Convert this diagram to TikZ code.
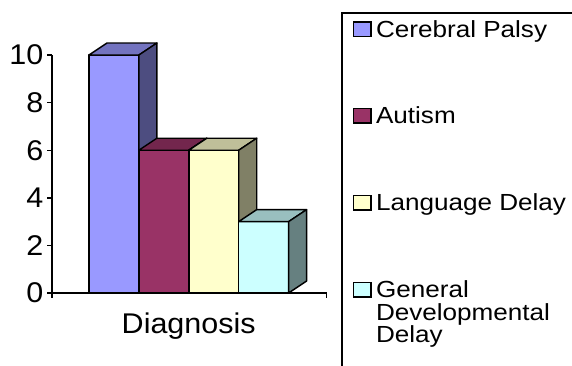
\documentclass[tikz,border=0pt]{standalone}
\usepackage{fontspec}
\newfontfamily\axfont[FakeStretch=1.07]{Liberation Sans}
\newfontfamily\legfont[FakeStretch=1.12]{Liberation Sans}
\definecolor{cpF}{HTML}{9999FF}\definecolor{cpT}{HTML}{7373BF}\definecolor{cpS}{HTML}{4D4D80}
\definecolor{auF}{HTML}{993366}\definecolor{auT}{HTML}{73264D}\definecolor{auS}{HTML}{4D1A33}
\definecolor{ldF}{HTML}{FFFFCC}\definecolor{ldT}{HTML}{BFBF99}\definecolor{ldS}{HTML}{808066}
\definecolor{gdF}{HTML}{CCFFFF}\definecolor{gdT}{HTML}{99BFBF}\definecolor{gdS}{HTML}{668080}
\newcommand\drawbar[5]{%
  \filldraw[barline,fill=#3] (#1,293) rectangle (#1+49.9,#2);
  \filldraw[barline,fill=#4] (#1,#2) -- (#1+18,#2-12) -- (#1+67.9,#2-12) -- (#1+49.9,#2) -- cycle;
  \filldraw[barline,fill=#5] (#1+49.9,293) -- (#1+49.9,#2) -- (#1+67.9,#2-12) -- (#1+67.9,281) -- cycle;
}
\begin{document}
\begin{tikzpicture}[x=1pt,y=-1pt,
  barline/.style={draw=black,line width=1.4pt,line join=round},
  axisline/.style={draw=black,line width=1.4pt},
  ticklab/.style={anchor=east,inner sep=0pt,font=\axfont\fontsize{28.5}{30}\selectfont},
  legtext/.style={anchor=base west,inner sep=0pt,align=left,font=\legfont\fontsize{23.3}{22.7}\selectfont},
  legkey/.style={draw=black,line width=1.4pt}]
\useasboundingbox (0,0) rectangle (572,365);
\clip (0,0) rectangle (572,365);
\fill[white] (0,0) rectangle (572,365);
% bars
\drawbar{89}{55}{cpF}{cpT}{cpS}
\drawbar{138.9}{150.2}{auF}{auT}{auS}
\drawbar{188.8}{150.2}{ldF}{ldT}{ldS}
\drawbar{238.7}{221.6}{gdF}{gdT}{gdS}
% axes
\coordinate (ytop) at (52,55);
\coordinate (orig) at (52,293);
\coordinate (xend) at (326.5,293);
\draw[axisline] (ytop) -- (orig) -- (xend);
\draw[axisline] (orig) -- ++(0,5);
\draw[axisline] (xend) -- ++(0,5);
\foreach \v/\nm in {0/a,2/b,4/c,6/d,8/e,10/f}{
  \coordinate (t\nm) at (52,293-23.8*\v);
  \draw[axisline] (t\nm) -- ++(-5,0);
  \node[ticklab] (l\nm) at (43.5,293-23.8*\v) {\v};
}
\node[anchor=base,inner sep=0pt,font=\axfont\fontsize{28.5}{30}\selectfont] (xlab) at (188.7,333.3) {Diagnosis};
% legend
\draw[line width=2pt] (341.5,380) -- (341.5,12.5) -- (590,12.5);
\draw[legkey,fill=cpF] (353.5,22) rectangle (371,36.5);
\node[legtext] (lg1) at (375.8,37) {Cerebral Palsy};
\draw[legkey,fill=auF] (353.5,108.5) rectangle (371,123);
\node[legtext] (lg2) at (375.8,123.8) {Autism};
\draw[legkey,fill=ldF] (353.5,195.5) rectangle (371,210);
\node[legtext] (lg3) at (375.8,210.6) {Language Delay};
\draw[legkey,fill=gdF] (353.5,282.5) rectangle (371,297);
\node[legtext] (lg4) at (375.8,342.7) {General\\Developmental\\Delay};
\end{tikzpicture}
\end{document}
